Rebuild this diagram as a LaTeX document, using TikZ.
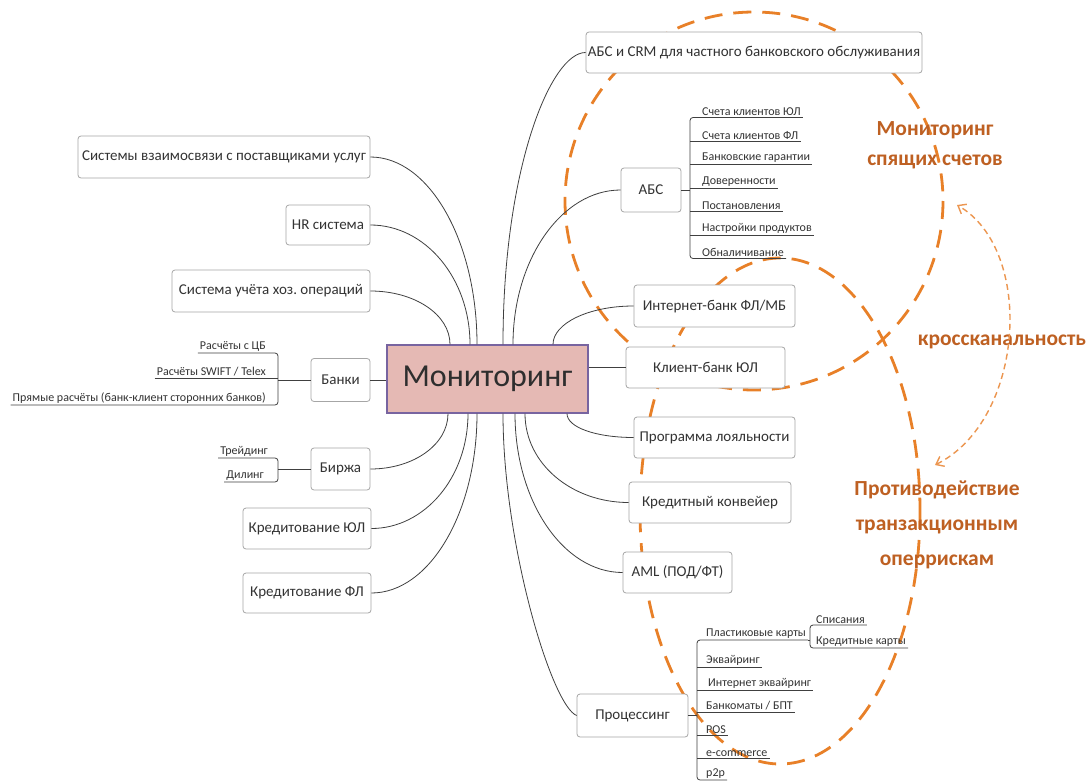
\documentclass[tikz,border=0pt]{standalone}
\usepackage{fontspec}
\setmainfont{Carlito}
\usetikzlibrary{arrows.meta}
\definecolor{ink}{HTML}{333333}
\definecolor{boxline}{HTML}{A6A6A6}
\definecolor{linkc}{HTML}{404040}
\definecolor{zonec}{RGB}{232,128,40}
\definecolor{crossc}{RGB}{236,150,80}
\definecolor{notec}{RGB}{190,96,34}
\definecolor{mainfill}{RGB}{229,185,180}
\definecolor{mainline}{RGB}{120,100,160}
\pgfdeclarelayer{zones}
\pgfsetlayers{zones,main}
\frenchspacing
\begin{document}
\begin{tikzpicture}[x=1pt, y=-1pt,
  box/.style={draw=boxline, line width=0.8pt, rounded corners=3pt, fill=white,
    text=ink, font=\fontsize{15}{17}\selectfont, inner sep=0pt, align=center},
  item/.style={text=ink, font=\fontsize{12}{14}\selectfont, inner xsep=2pt, inner ysep=1.5pt},
  link/.style={draw=linkc, line width=0.8pt},
  zone/.style={draw=zonec, line width=2.8pt, dash pattern=on 18pt off 11pt},
  hint/.style={text=notec, font=\bfseries\fontsize{21.5}{30}\selectfont, align=center},
  cross/.style={draw=crossc, line width=1.4pt, dash pattern=on 6pt off 4pt,
    {Straight Barb[length=7pt,width=11pt]}-{Straight Barb[length=7pt,width=11pt]}}]
\useasboundingbox (0,0) rectangle (1089,781);

% central node
\node[draw=mainline, fill=mainfill, line width=1.2pt, minimum width=201pt, minimum height=68pt,
  font=\fontsize{32}{36}\selectfont, text=ink!90!black] (main) at (487.5,379) {Мониторинг};

% left branch boxes
\node[box, minimum width=292pt, minimum height=42pt] (sys) at (224,157) {Системы взаимосвязи с поставщиками услуг};
\node[box, minimum width=84pt, minimum height=40pt] (hr) at (328,225) {HR система};
\node[box, minimum width=198pt, minimum height=42pt] (acc) at (271,291) {Система учёта хоз. операций};
\node[box, minimum width=59pt, minimum height=43pt] (banks) at (340.5,380) {Банки};
\node[box, minimum width=59pt, minimum height=42pt] (birzha) at (340.5,469) {Биржа};
\node[box, minimum width=128pt, minimum height=41pt] (credul) at (307,528.5) {Кредитование ЮЛ};
\node[box, minimum width=128pt, minimum height=40pt] (credfl) at (307,593) {Кредитование ФЛ};

% right branch boxes
\node[box, minimum width=336pt, minimum height=41pt] (abscrm) at (754,52.5) {АБС и CRM для частного банковского обслуживания};
\node[box, minimum width=60pt, minimum height=44pt] (abs) at (651,190) {АБС};
\node[box, minimum width=161pt, minimum height=42pt] (inet) at (714.5,306) {Интернет-банк ФЛ/МБ};
\node[box, minimum width=159pt, minimum height=41pt] (client) at (705.5,367.5) {Клиент-банк ЮЛ};
\node[box, minimum width=161pt, minimum height=41pt] (loyal) at (714.5,437.5) {Программа лояльности};
\node[box, minimum width=162pt, minimum height=41pt] (conv) at (710,502.5) {Кредитный конвейер};
\node[box, minimum width=109pt, minimum height=41pt] (aml) at (677.5,572.5) {AML (ПОД/ФТ)};
\node[box, minimum width=111pt, minimum height=43pt] (proc) at (632.5,715.5) {Процессинг};

% branches leaving the top of the central node
\draw[link] ([xshift=-10.5pt]main.north) .. controls +(0,-103) and +(59,0) .. (sys.east);
\draw[link] ([xshift=-17.5pt]main.north) .. controls +(0,-66) and +(55,0) .. (hr.east);
\draw[link] ([xshift=-37.5pt]main.north) .. controls +(0,-30) and +(44,0) .. (acc.east);
\draw[link] ([xshift=15.5pt]main.north) .. controls +(0,-175) and +(-35,0) .. (abscrm.west);
\draw[link] ([xshift=25.5pt]main.north) .. controls +(0,-85) and +(-59,0) .. (abs.west);
\draw[link] ([xshift=65.5pt]main.north) .. controls +(0,-21) and +(-45,0) .. (inet.west);
% branches leaving the bottom of the central node
\draw[link] ([xshift=-39.5pt]main.south) .. controls +(0,31) and +(43,0) .. (birzha.east);
\draw[link] ([xshift=-19.5pt]main.south) .. controls +(0,64) and +(53,0) .. (credul.east);
\draw[link] ([xshift=-10.5pt]main.south) .. controls +(0,99) and +(58,0) .. (credfl.east);
\draw[link] ([xshift=15.5pt]main.south) .. controls +(0,130) and +(-25,-10) .. (proc.west);
\draw[link] ([xshift=27.5pt]main.south) .. controls +(0,88) and +(-59,0) .. (aml.west);
\draw[link] ([xshift=37.5pt]main.south) .. controls +(0,50) and +(-57,0) .. (conv.west);
\draw[link] ([xshift=79.5pt]main.south) .. controls +(0,14) and +(-37,0) .. (loyal.west);
% straight branches
\draw[link] (banks.east) -- (banks.east -| main.west);
\draw[link] (main.east |- client.west) -- (client.west);

% АБС sub-items
\coordinate (absbr) at (690,190);
\node[item, anchor=south west] (abs1) at (700,117.5) {Счета клиентов ЮЛ};
\node[item, anchor=south west] (abs2) at (700,141) {Счета клиентов ФЛ};
\node[item, anchor=south west] (abs3) at (700,164.5) {Банковские гарантии};
\node[item, anchor=south west] (abs4) at (700,188) {Доверенности};
\node[item, anchor=south west] (abs5) at (700,211.5) {Постановления};
\node[item, anchor=south west] (abs6) at (700,235) {Настройки продуктов};
\node[item, anchor=south west] (abs7) at (700,258.5) {Обналичивание};
\draw[link, rounded corners=3pt] (abs1.south east) -- (absbr |- abs1.south) -- (absbr |- abs7.south) -- (abs7.south east);
\foreach \k in {2,...,6} \draw[link] (absbr |- abs\k.south) -- (abs\k.south east);
\draw[link] (abs.east) -- (absbr);

% Банки sub-items
\coordinate (bankbr) at (278,380);
\node[item, anchor=south east] (bk1) at (268,353) {Расчёты с ЦБ};
\node[item, anchor=south east] (bk2) at (268,378) {Расчёты SWIFT / Telex};
\node[item, anchor=south east] (bk3) at (268,405) {Прямые расчёты (банк-клиент сторонних банков)};
\draw[link, rounded corners=3pt] (bk1.south west) -- (bankbr |- bk1.south) -- (bankbr |- bk3.south) -- (bk3.south west);
\draw[link] (bk2.south west) -- (bankbr |- bk2.south);
\draw[link] (banks.west) -- (bankbr |- banks.west);

% Биржа sub-items
\coordinate (bizbr) at (278,470);
\node[item, anchor=south east] (bz1) at (270,458) {Трейдинг};
\node[item, anchor=south east] (bz2) at (266,482) {Дилинг};
\draw[link, rounded corners=3pt] (bz1.south west) -- (bizbr |- bz1.south) -- (bizbr |- bz2.south) -- (bz2.south west);
\draw[link] (birzha.west) -- (bizbr |- birzha.west);

% Процессинг sub-items
\coordinate (procbr) at (697,715.5);
\node[item, anchor=south west] (pc1) at (704,640) {Пластиковые карты};
\node[item, anchor=south west] (pc2) at (704,667) {Эквайринг};
\node[item, anchor=south west] (pc3) at (706,690) {Интернет эквайринг};
\node[item, anchor=south west] (pc4) at (704,712) {Банкоматы / БПТ};
\node[item, anchor=south west] (pc5) at (704,735) {POS};
\node[item, anchor=south west] (pc6) at (704,758) {e-commerce};
\node[item, anchor=south west] (pc7) at (704,780) {p2p};
\draw[link, rounded corners=3pt] (pc1.south east) -- (procbr |- pc1.south) -- (procbr |- pc7.south) -- (pc7.south east);
\foreach \k in {2,...,6} \draw[link] (procbr |- pc\k.south) -- (pc\k.south east);
\draw[link] (proc.east) -- (procbr);

% card sub-items
\coordinate (cardbr) at (810,636);
\node[item, anchor=south west] (cd1) at (814,625) {Списания};
\node[item, anchor=south west] (cd2) at (814,648) {Кредитные карты};
\draw[link, rounded corners=3pt] (cd1.south east) -- (cardbr |- cd1.south) -- (cardbr |- cd2.south) -- (cd2.south east);
\draw[link] (pc1.south east) -- (cardbr |- pc1.south);

% monitoring zones, kept beneath the boxes
\begin{pgfonlayer}{zones}
\fill[white] (0,0) rectangle (1089,781);
\draw[zone] (754,201) circle [radius=189];
\draw[zone] (780,511) ellipse [x radius=140, y radius=253];
\end{pgfonlayer}

% zone captions
\node[hint] (sleep) at (935,145) {Мониторинг\\спящих счетов};
\node[hint] (crossch) at (1002,342) {кроссканальность};
\node[hint, font=\bfseries\fontsize{21.5}{35}\selectfont] (anti) at (937,525) {Противодействие\\транзакционным\\оперрискам};

% cross-channel link between the zones
\coordinate (crossTop) at (957,205);
\coordinate (crossBot) at (935,465);
\draw[cross] (crossBot) .. controls (1025,420) and (1035,250) .. (crossTop);
\end{tikzpicture}
\end{document}
